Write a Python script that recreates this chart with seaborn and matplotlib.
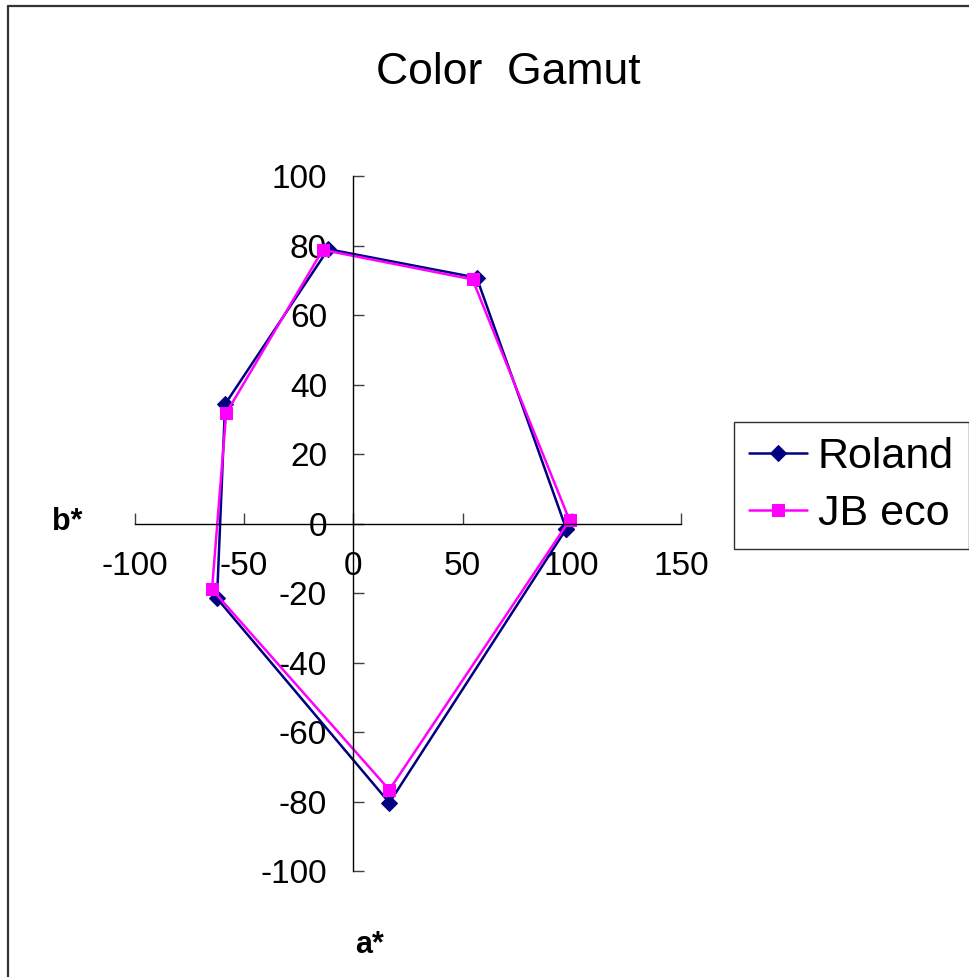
import numpy as np
import pandas as pd
import matplotlib
matplotlib.use('Agg')
import matplotlib.pyplot as plt
from matplotlib.lines import Line2D
import seaborn as sns

# a*, b* (polygon closed back to first point)
roland_a = [97.5, 56.5, -11.5, -58.7, -62.4, 16.5, 97.5]
roland_b = [-1.5, 70.8, 79.0, 34.4, -21.5, -80.3, -1.5]
jb_a = [99.0, 54.6, -14.0, -58.2, -64.7, 16.5, 99.0]
jb_b = [1.0, 70.3, 78.8, 31.8, -18.9, -76.6, 1.0]

x_ticks = [-100, -50, 0, 50, 100, 150]
y_ticks = [-100, -80, -60, -40, -20, 0, 20, 40, 60, 80, 100]

sns.set_style('white')
plt.rcParams['font.family'] = ['Liberation Sans', 'DejaVu Sans']
plt.rcParams['axes.unicode_minus'] = False
plt.rcParams['text.color'] = 'black'

fig = plt.figure(figsize=(9.69, 9.77), dpi=100)
left, right = 134.9 / 969, 680.9 / 969
top, bottom = 1 - 176.2 / 977, 1 - 871.2 / 977
ax = fig.add_axes([left, bottom, right - left, top - bottom])

sns.lineplot(x=roland_a, y=roland_b, sort=False, estimator=None, ax=ax,
             color='#000080', marker='D', markersize=8.5, markeredgecolor='#000080',
             linewidth=1.8, label='Roland')
sns.lineplot(x=jb_a, y=jb_b, sort=False, estimator=None, ax=ax,
             color='#FF00FF', marker='s', markersize=8, markeredgecolor='#FF00FF',
             linewidth=1.8, label='JB eco')

ax.set_xlim(-100, 150)
ax.set_ylim(-100, 100)
ax.set_xticks(x_ticks)
ax.set_yticks(y_ticks)

# axes cross at the origin like the Excel chart
ax.spines['left'].set_position('zero')
ax.spines['bottom'].set_position('zero')
ax.spines['right'].set_visible(False)
ax.spines['top'].set_visible(False)
for s in ['left', 'bottom']:
    ax.spines[s].set_color('black')
    ax.spines[s].set_linewidth(1.0)
ax.tick_params(axis='both', direction='in', length=8, width=1, color='#404040',
               labelsize=24, labelcolor='black', left=True, bottom=True)
ax.tick_params(axis='y', pad=19)
ax.tick_params(axis='x', pad=20)

leg = ax.legend(loc='upper left', bbox_to_anchor=(734 / 969, 1 - 421.7 / 977),
                bbox_transform=fig.transFigure, fontsize=31, frameon=True,
                fancybox=False, framealpha=1, edgecolor='#303030', borderaxespad=0,
                handlelength=1.35, handletextpad=0.25, borderpad=0.35, labelspacing=0.4)
leg.get_frame().set_linewidth(1.0)
for t in leg.get_texts():
    t.set_color('black')

fig.text(508 / 969, 1 - 72 / 977, 'Color  Gamut', fontsize=32, ha='center', va='center')
fig.text(67 / 969, 1 - 522 / 977, 'b*', fontsize=22, fontweight='bold', ha='center', va='center')
fig.text(370 / 969, 1 - 945 / 977, 'a*', fontsize=22, fontweight='bold', ha='center', va='center')

# outer chart border (only left and top edges visible in the crop)
fig.add_artist(Line2D([8 / 969, 8 / 969], [0, 1 - 6 / 977], transform=fig.transFigure,
                      color='#333333', linewidth=1.6))
fig.add_artist(Line2D([8 / 969, 1], [1 - 6 / 977, 1 - 6 / 977], transform=fig.transFigure,
                      color='#333333', linewidth=1.6))

fig.savefig('out.png', dpi=100)
